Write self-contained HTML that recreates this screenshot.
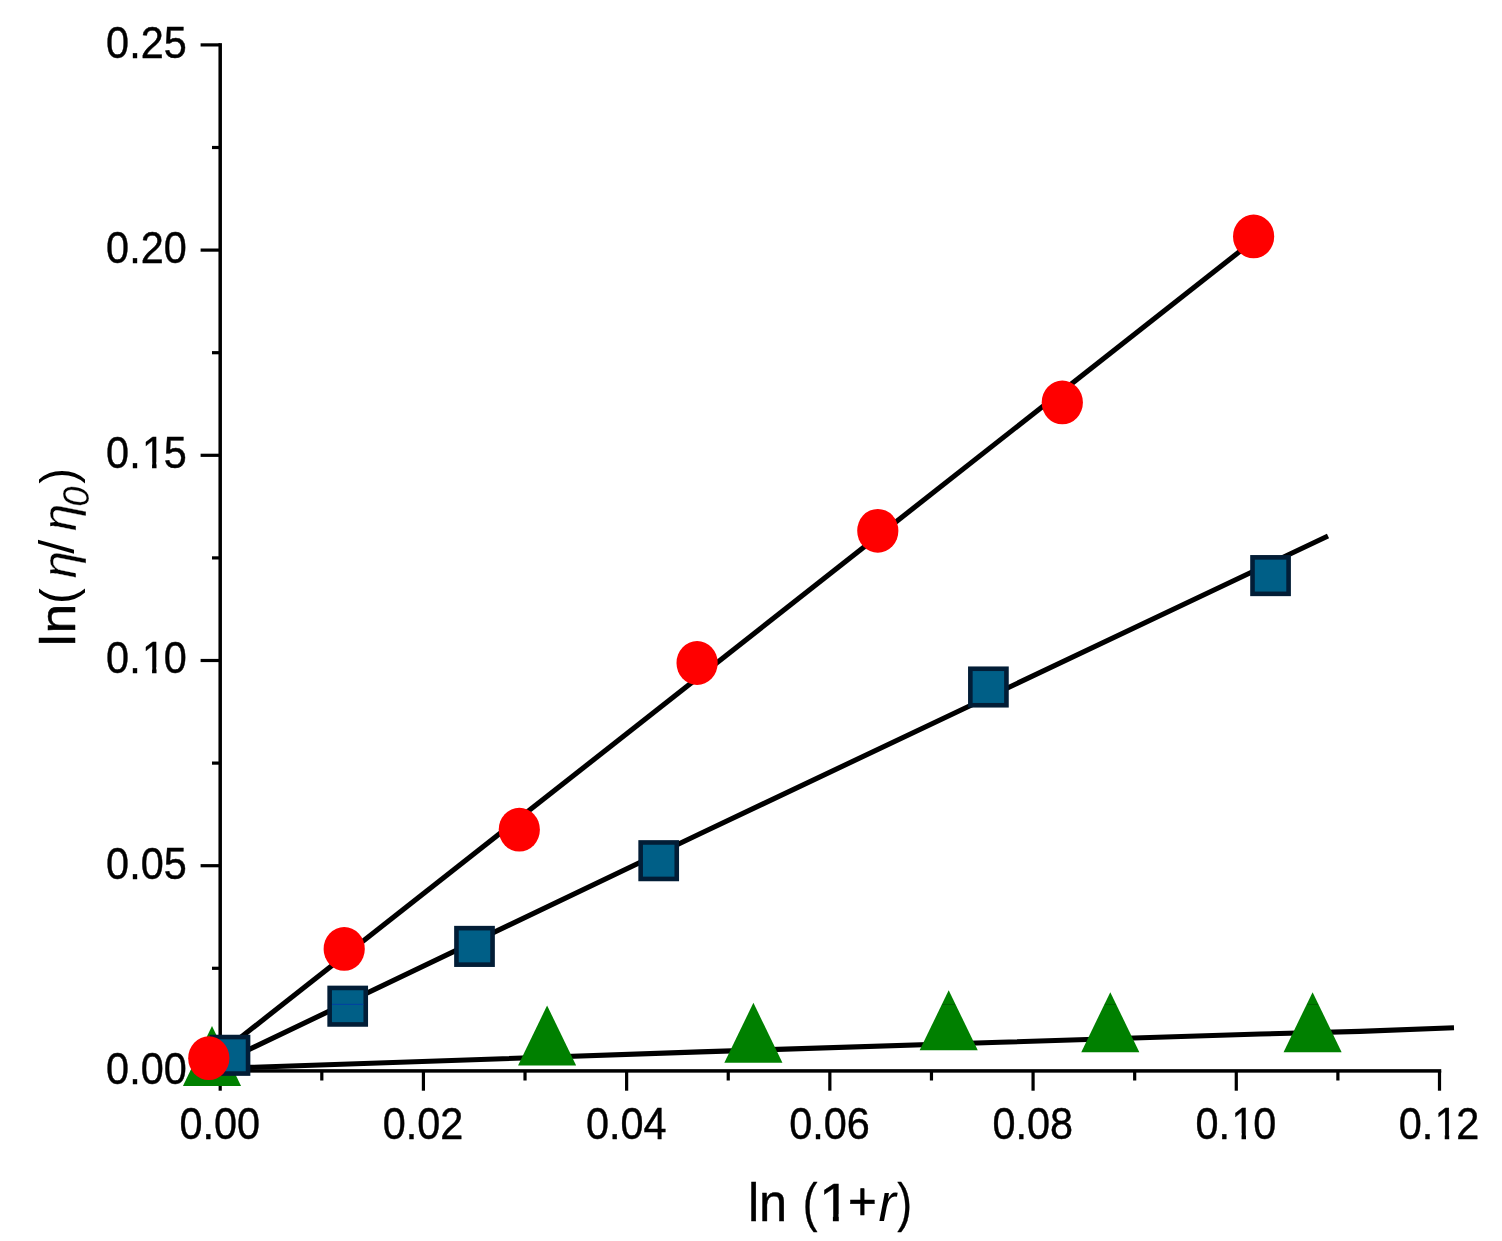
<!DOCTYPE html>
<html lang="en">
<head>
<meta charset="utf-8">
<title>ln(η/η0) versus ln (1+r)</title>
<style>
html, body { margin: 0; padding: 0; background: #ffffff; }
body { width: 1502px; height: 1241px; overflow: hidden; }
svg { display: block; }
svg text { font-family: "Liberation Sans", Arial, Helvetica, sans-serif; fill: #000; }
svg text.sf { font-family: "Liberation Serif", "Times New Roman", Times, serif; }
</style>
</head>
<body>
<svg width="1502" height="1241" viewBox="0 0 1502 1241">
<rect x="0" y="0" width="1502" height="1241" fill="#ffffff"/>
<g id="axes"><rect x="218.45" y="43.15" width="3.5" height="1029.50" fill="#000"/><rect x="218.45" y="1069.15" width="1222.80" height="3.5" fill="#000"/><rect x="200.60" y="1069.30" width="19.60" height="3.2" fill="#000"/><rect x="212.00" y="966.70" width="8.20" height="3.2" fill="#000"/><rect x="200.60" y="864.10" width="19.60" height="3.2" fill="#000"/><rect x="212.00" y="761.50" width="8.20" height="3.2" fill="#000"/><rect x="200.60" y="658.90" width="19.60" height="3.2" fill="#000"/><rect x="212.00" y="556.30" width="8.20" height="3.2" fill="#000"/><rect x="200.60" y="453.70" width="19.60" height="3.2" fill="#000"/><rect x="212.00" y="351.10" width="8.20" height="3.2" fill="#000"/><rect x="200.60" y="248.50" width="19.60" height="3.2" fill="#000"/><rect x="212.00" y="145.90" width="8.20" height="3.2" fill="#000"/><rect x="200.60" y="43.30" width="19.60" height="3.2" fill="#000"/><rect x="218.60" y="1070.90" width="3.2" height="19.80" fill="#000"/><rect x="320.21" y="1070.90" width="3.2" height="9.60" fill="#000"/><rect x="421.82" y="1070.90" width="3.2" height="19.80" fill="#000"/><rect x="523.42" y="1070.90" width="3.2" height="9.60" fill="#000"/><rect x="625.03" y="1070.90" width="3.2" height="19.80" fill="#000"/><rect x="726.64" y="1070.90" width="3.2" height="9.60" fill="#000"/><rect x="828.25" y="1070.90" width="3.2" height="19.80" fill="#000"/><rect x="929.86" y="1070.90" width="3.2" height="9.60" fill="#000"/><rect x="1031.47" y="1070.90" width="3.2" height="19.80" fill="#000"/><rect x="1133.08" y="1070.90" width="3.2" height="9.60" fill="#000"/><rect x="1234.68" y="1070.90" width="3.2" height="19.80" fill="#000"/><rect x="1336.29" y="1070.90" width="3.2" height="9.60" fill="#000"/><rect x="1437.90" y="1070.90" width="3.2" height="19.80" fill="#000"/></g>
<g id="lines"><polyline points="220.00,1068.40 700.00,1051.90 1000.00,1042.30 1260.00,1034.00 1360.00,1031.40 1454.00,1027.70" fill="none" stroke="#000" stroke-width="5.1" stroke-linecap="butt" stroke-linejoin="round"/><polyline points="220.00,1063.40 700.00,833.75 1328.00,536.00" fill="none" stroke="#000" stroke-width="5.1" stroke-linecap="butt" stroke-linejoin="round"/><polyline points="220.00,1053.65 1253.00,241.00" fill="none" stroke="#000" stroke-width="5.1" stroke-linecap="butt" stroke-linejoin="round"/></g>
<g id="tri"><polygon points="212.00,1026.05 241.05,1086.05 182.95,1086.05" fill="#008000"/><polygon points="547.10,1005.50 576.15,1065.50 518.05,1065.50" fill="#008000"/><polygon points="753.40,1002.80 782.45,1062.80 724.35,1062.80" fill="#008000"/><polygon points="948.70,990.30 977.75,1050.30 919.65,1050.30" fill="#008000"/><rect x="942.30" y="1003.95" width="12.81" height="0.8" fill="#005200" opacity="0.8"/><polygon points="1110.30,992.20 1139.35,1052.20 1081.25,1052.20" fill="#008000"/><rect x="1104.82" y="1003.95" width="10.97" height="0.8" fill="#005200" opacity="0.8"/><polygon points="1312.60,992.20 1341.65,1052.20 1283.55,1052.20" fill="#008000"/><rect x="1307.12" y="1003.95" width="10.97" height="0.8" fill="#005200" opacity="0.8"/></g>
<g id="sq"><rect x="209.65" y="1034.75" width="40.70" height="41.10" fill="#021d36"/><rect x="214.25" y="1039.35" width="31.50" height="31.90" fill="#005f87"/><rect x="327.35" y="985.65" width="40.70" height="41.10" fill="#021d36"/><rect x="331.95" y="990.25" width="31.50" height="31.90" fill="#005f87"/><rect x="331.95" y="1003.85" width="31.50" height="1" fill="#0038a8" opacity="0.85"/><rect x="454.15" y="925.85" width="40.70" height="41.10" fill="#021d36"/><rect x="458.75" y="930.45" width="31.50" height="31.90" fill="#005f87"/><rect x="638.35" y="840.15" width="40.70" height="41.10" fill="#021d36"/><rect x="642.95" y="844.75" width="31.50" height="31.90" fill="#005f87"/><rect x="968.05" y="666.45" width="40.70" height="41.10" fill="#021d36"/><rect x="972.65" y="671.05" width="31.50" height="31.90" fill="#005f87"/><rect x="1250.20" y="555.05" width="40.70" height="41.10" fill="#021d36"/><rect x="1254.80" y="559.65" width="31.50" height="31.90" fill="#005f87"/></g>
<g id="circ"><ellipse cx="208.80" cy="1058.20" rx="20.6" ry="21.9" fill="#ff0000"/><ellipse cx="344.20" cy="948.90" rx="20.6" ry="21.9" fill="#ff0000"/><ellipse cx="519.30" cy="829.70" rx="20.6" ry="21.9" fill="#ff0000"/><ellipse cx="697.10" cy="663.00" rx="20.6" ry="21.9" fill="#ff0000"/><ellipse cx="877.80" cy="530.80" rx="20.6" ry="21.9" fill="#ff0000"/><ellipse cx="1062.30" cy="402.40" rx="20.6" ry="21.9" fill="#ff0000"/><ellipse cx="1253.60" cy="236.40" rx="20.6" ry="21.9" fill="#ff0000"/></g>
<g id="ticklabels"><text transform="translate(106.12,1083.80) scale(1.0,1.06)" text-anchor="start" font-size="41.4" stroke="#000" stroke-width="0.4">0.00</text><text transform="translate(106.12,878.60) scale(1.0,1.06)" text-anchor="start" font-size="41.4" stroke="#000" stroke-width="0.4">0.05</text><text transform="translate(106.12,673.40) scale(1.0,1.06)" text-anchor="start" font-size="41.4" stroke="#000" stroke-width="0.4">0.<tspan dx="1.4">1</tspan><tspan dx="-1.4">0</tspan></text><rect x="143.00" y="667.00" width="9.06" height="8.00" fill="#fff"/><rect x="156.52" y="667.00" width="8.48" height="8.00" fill="#fff"/><text transform="translate(106.12,468.20) scale(1.0,1.06)" text-anchor="start" font-size="41.4" stroke="#000" stroke-width="0.4">0.<tspan dx="1.4">1</tspan><tspan dx="-1.4">5</tspan></text><rect x="143.00" y="462.00" width="9.06" height="8.00" fill="#fff"/><rect x="156.52" y="462.00" width="8.48" height="8.00" fill="#fff"/><text transform="translate(106.12,263.00) scale(1.0,1.06)" text-anchor="start" font-size="41.4" stroke="#000" stroke-width="0.4">0.20</text><text transform="translate(106.12,57.80) scale(1.0,1.06)" text-anchor="start" font-size="41.4" stroke="#000" stroke-width="0.4">0.25</text><text transform="translate(179.51,1139.00) scale(1.0,1.06)" text-anchor="start" font-size="41.4" stroke="#000" stroke-width="0.4">0.00</text><text transform="translate(382.73,1139.00) scale(1.0,1.06)" text-anchor="start" font-size="41.4" stroke="#000" stroke-width="0.4">0.02</text><text transform="translate(585.95,1139.00) scale(1.0,1.06)" text-anchor="start" font-size="41.4" stroke="#000" stroke-width="0.4">0.04</text><text transform="translate(789.16,1139.00) scale(1.0,1.06)" text-anchor="start" font-size="41.4" stroke="#000" stroke-width="0.4">0.06</text><text transform="translate(992.38,1139.00) scale(1.0,1.06)" text-anchor="start" font-size="41.4" stroke="#000" stroke-width="0.4">0.08</text><text transform="translate(1195.60,1139.00) scale(1.0,1.06)" text-anchor="start" font-size="41.4" stroke="#000" stroke-width="0.4">0.<tspan dx="1.4">1</tspan><tspan dx="-1.4">0</tspan></text><rect x="1232.00" y="1133.00" width="9.53" height="8.00" fill="#fff"/><rect x="1245.99" y="1133.00" width="9.01" height="8.00" fill="#fff"/><text transform="translate(1398.81,1139.00) scale(1.0,1.06)" text-anchor="start" font-size="41.4" stroke="#000" stroke-width="0.4">0.<tspan dx="1.4">1</tspan><tspan dx="-1.4">2</tspan></text><rect x="1436.00" y="1133.00" width="8.75" height="8.00" fill="#fff"/><rect x="1449.21" y="1133.00" width="8.79" height="8.00" fill="#fff"/></g>
<text id="xtitle" transform="translate(747.9,1221.2) scale(1,1.05)" stroke-linejoin="round"><tspan font-size="50.5" stroke="#000" stroke-width="0.35">ln </tspan><tspan dx="1.46" font-size="50.5" textLength="14.80" lengthAdjust="spacingAndGlyphs" stroke="#000" stroke-width="0.3">(</tspan><tspan dx="1.16" font-size="50.5" textLength="32.30" lengthAdjust="spacingAndGlyphs" stroke="#000" stroke-width="0.3">1</tspan><tspan dx="-2.91" dy="-0.86" font-size="50.5" textLength="28.75" lengthAdjust="spacingAndGlyphs" stroke="#000" stroke-width="0.5">+</tspan><tspan dx="1.80" dy="0.86" font-size="50.5" textLength="17.49" lengthAdjust="spacingAndGlyphs" font-style="italic">r</tspan><tspan dx="1.21" font-size="50.5" textLength="14.80" lengthAdjust="spacingAndGlyphs" stroke="#000" stroke-width="0.3">)</tspan></text>
<rect x="821.00" y="1214.00" width="11.89" height="9.00" fill="#fff"/><rect x="838.77" y="1214.00" width="10.93" height="9.00" fill="#fff"/>
<text id="ytitle" transform="translate(74.85,646.4) rotate(-90)" stroke-linejoin="round"><tspan font-size="50.7" textLength="12.01" lengthAdjust="spacingAndGlyphs" stroke="#000" stroke-width="0.5">l</tspan><tspan dx="0.79" font-size="50.7" textLength="29.61" lengthAdjust="spacingAndGlyphs" stroke="#000" stroke-width="0.5">n</tspan><tspan dx="0.09" dy="0.05" font-size="50.7" textLength="15.87" lengthAdjust="spacingAndGlyphs">(</tspan><tspan dx="9.73" dy="0.70" font-size="47.8" textLength="27.07" lengthAdjust="spacingAndGlyphs" font-style="italic" stroke="#fff" stroke-width="0.35">η</tspan><tspan dx="-2.52" dy="-1.34" font-size="50.0" textLength="14.11" lengthAdjust="spacingAndGlyphs">/</tspan><tspan dx="8.54" dy="1.34" font-size="47.8" textLength="27.07" lengthAdjust="spacingAndGlyphs" font-style="italic" stroke="#fff" stroke-width="0.35">η</tspan><tspan dx="-2.67" dy="13.20" font-size="36.0" textLength="20.22" lengthAdjust="spacingAndGlyphs" font-style="italic" stroke="#fff" stroke-width="0.2">0</tspan><tspan dx="2.78" dy="-14.10" font-size="50.6" textLength="15.84" lengthAdjust="spacingAndGlyphs">)</tspan></text>
</svg>
</body>
</html>
